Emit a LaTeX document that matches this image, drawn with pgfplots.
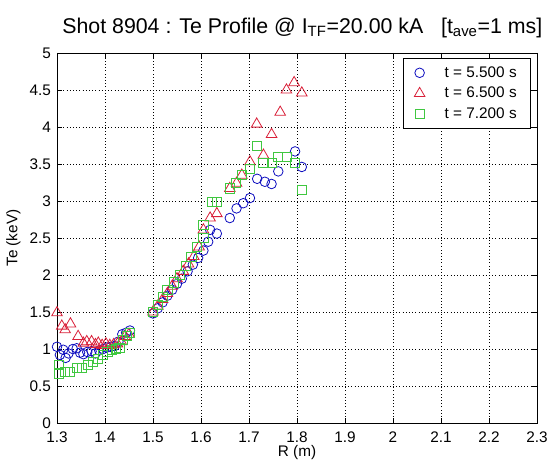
\documentclass[border=0pt]{standalone}
\usepackage{pgfplots}
\pgfplotsset{compat=1.18}
\usepackage{fontspec}
\setmainfont{Liberation Sans}

\definecolor{mblue}{rgb}{0.05,0.05,0.75}
\definecolor{mred}{rgb}{0.85,0.12,0.22}
\definecolor{mgreen}{rgb}{0.25,0.78,0.25}

% Te profiles, R (m) vs Te (keV)
\pgfplotstableread{
R Te
1.300 1.03
1.306 0.92
1.313 0.99
1.318 0.88
1.324 0.94
1.333 1.00
1.341 1.01
1.348 0.95
1.355 0.93
1.363 0.96
1.372 0.97
1.380 0.94
1.388 0.98
1.396 1.00
1.404 1.02
1.412 1.03
1.420 1.04
1.428 1.10
1.436 1.20
1.444 1.22
1.452 1.25
1.500 1.48
1.510 1.55
1.520 1.63
1.530 1.72
1.540 1.80
1.550 1.88
1.560 1.95
1.572 2.05
1.583 2.14
1.594 2.23
1.605 2.33
1.615 2.45
1.619 2.61
1.633 2.56
1.660 2.77
1.674 2.90
1.688 2.97
1.702 3.04
1.717 3.30
1.733 3.26
1.747 3.23
1.761 3.40
1.796 3.67
1.810 3.46
}\tA

\pgfplotstableread{
R Te
1.300 1.49
1.310 1.31
1.317 1.26
1.328 1.34
1.344 1.17
1.355 1.08
1.362 1.10
1.372 1.10
1.380 1.06
1.386 1.08
1.394 1.05
1.402 1.07
1.410 1.05
1.418 1.06
1.426 1.07
1.434 1.10
1.442 1.17
1.450 1.20
1.500 1.50
1.510 1.58
1.520 1.67
1.530 1.75
1.540 1.85
1.550 1.95
1.563 2.05
1.574 2.15
1.585 2.25
1.596 2.38
1.605 2.61
1.619 2.77
1.633 2.83
1.660 3.17
1.674 3.24
1.685 3.35
1.702 3.53
1.716 4.04
1.730 3.62
1.747 3.90
1.765 4.20
1.778 4.50
1.794 4.60
1.810 4.46
}\tB

\pgfplotstableread{
R Te
1.303 0.78
1.303 0.67
1.317 0.69
1.327 0.69
1.341 0.74
1.351 0.74
1.365 0.78
1.375 0.83
1.386 0.87
1.396 0.92
1.405 0.96
1.414 0.99
1.422 1.00
1.430 1.02
1.437 1.12
1.445 1.18
1.452 1.22
1.500 1.50
1.510 1.60
1.520 1.70
1.530 1.80
1.544 1.90
1.556 2.00
1.568 2.12
1.580 2.25
1.592 2.38
1.605 2.50
1.605 2.68
1.622 2.99
1.634 2.99
1.660 3.17
1.672 3.25
1.686 3.35
1.702 3.43
1.717 3.74
1.730 3.51
1.747 3.51
1.761 3.60
1.778 3.60
1.796 3.51
1.810 3.15
}\tC

\begin{document}
\begin{tikzpicture}
\useasboundingbox (-42.75pt,-33pt) rectangle (371.25pt,317.25pt);
\begin{axis}[
  at={(0,0)}, anchor=south west,
  scale only axis,
  width=360pt, height=277.5pt,
  xmin=1.3, xmax=2.3, ymin=0, ymax=5,
  xtick={1.3,1.4,...,2.31}, ytick={0,0.5,...,5.01},
  xticklabels={1.3,1.4,1.5,1.6,1.7,1.8,1.9,2,2.1,2.2,2.3},
  yticklabels={0,0.5,1,1.5,2,2.5,3,3.5,4,4.5,5},
  tick align=inside,
  major tick length=4pt,
  tick style={black, line width=0.4pt},
  axis line style={black, line width=0.5pt},
  grid=major,
  major grid style={black, dotted, line width=0.5pt},
  ticklabel style={font=\fontsize{11.5}{13}\selectfont},
  xticklabel style={yshift=-3pt},
  yticklabel style={xshift=-1pt},
  xlabel={R (m)}, ylabel={Te (keV)},
  label style={font=\fontsize{11.5}{13}\selectfont},
  xlabel style={yshift=5pt},
  ylabel style={yshift=0pt},
  title={Shot 8904 : Te Profile @ I$_{\mathrm{TF}}$=20.00 kA\ \ \ [t$_{\mathrm{ave}}$=1 ms]},
  title style={font=\fontsize{16}{18}\selectfont, yshift=2pt, xshift=4pt},
  legend style={at={(rel axis cs:0.986,0.986)}, anchor=north east,
    draw=black, fill=white, font=\fontsize{11.5}{13}\selectfont,
    row sep=2pt, inner xsep=8pt, inner ysep=4pt},
  legend cell align=left,
  mark options={solid, line width=0.6pt},
]
\addplot[only marks, mark=o, mark size=3.6pt, color=mblue] table[x=R,y=Te]{\tA};
\addlegendentry{\ \ \ \ t = 5.500 s}
\addplot[only marks, mark=triangle, mark size=4.6pt, color=mred] table[x=R,y=Te]{\tB};
\addlegendentry{\ \ \ \ t = 6.500 s}
\addplot[only marks, mark=square, mark size=3.4pt, color=mgreen] table[x=R,y=Te]{\tC};
\addlegendentry{\ \ \ \ t = 7.200 s}
\end{axis}
\end{tikzpicture}
\end{document}
